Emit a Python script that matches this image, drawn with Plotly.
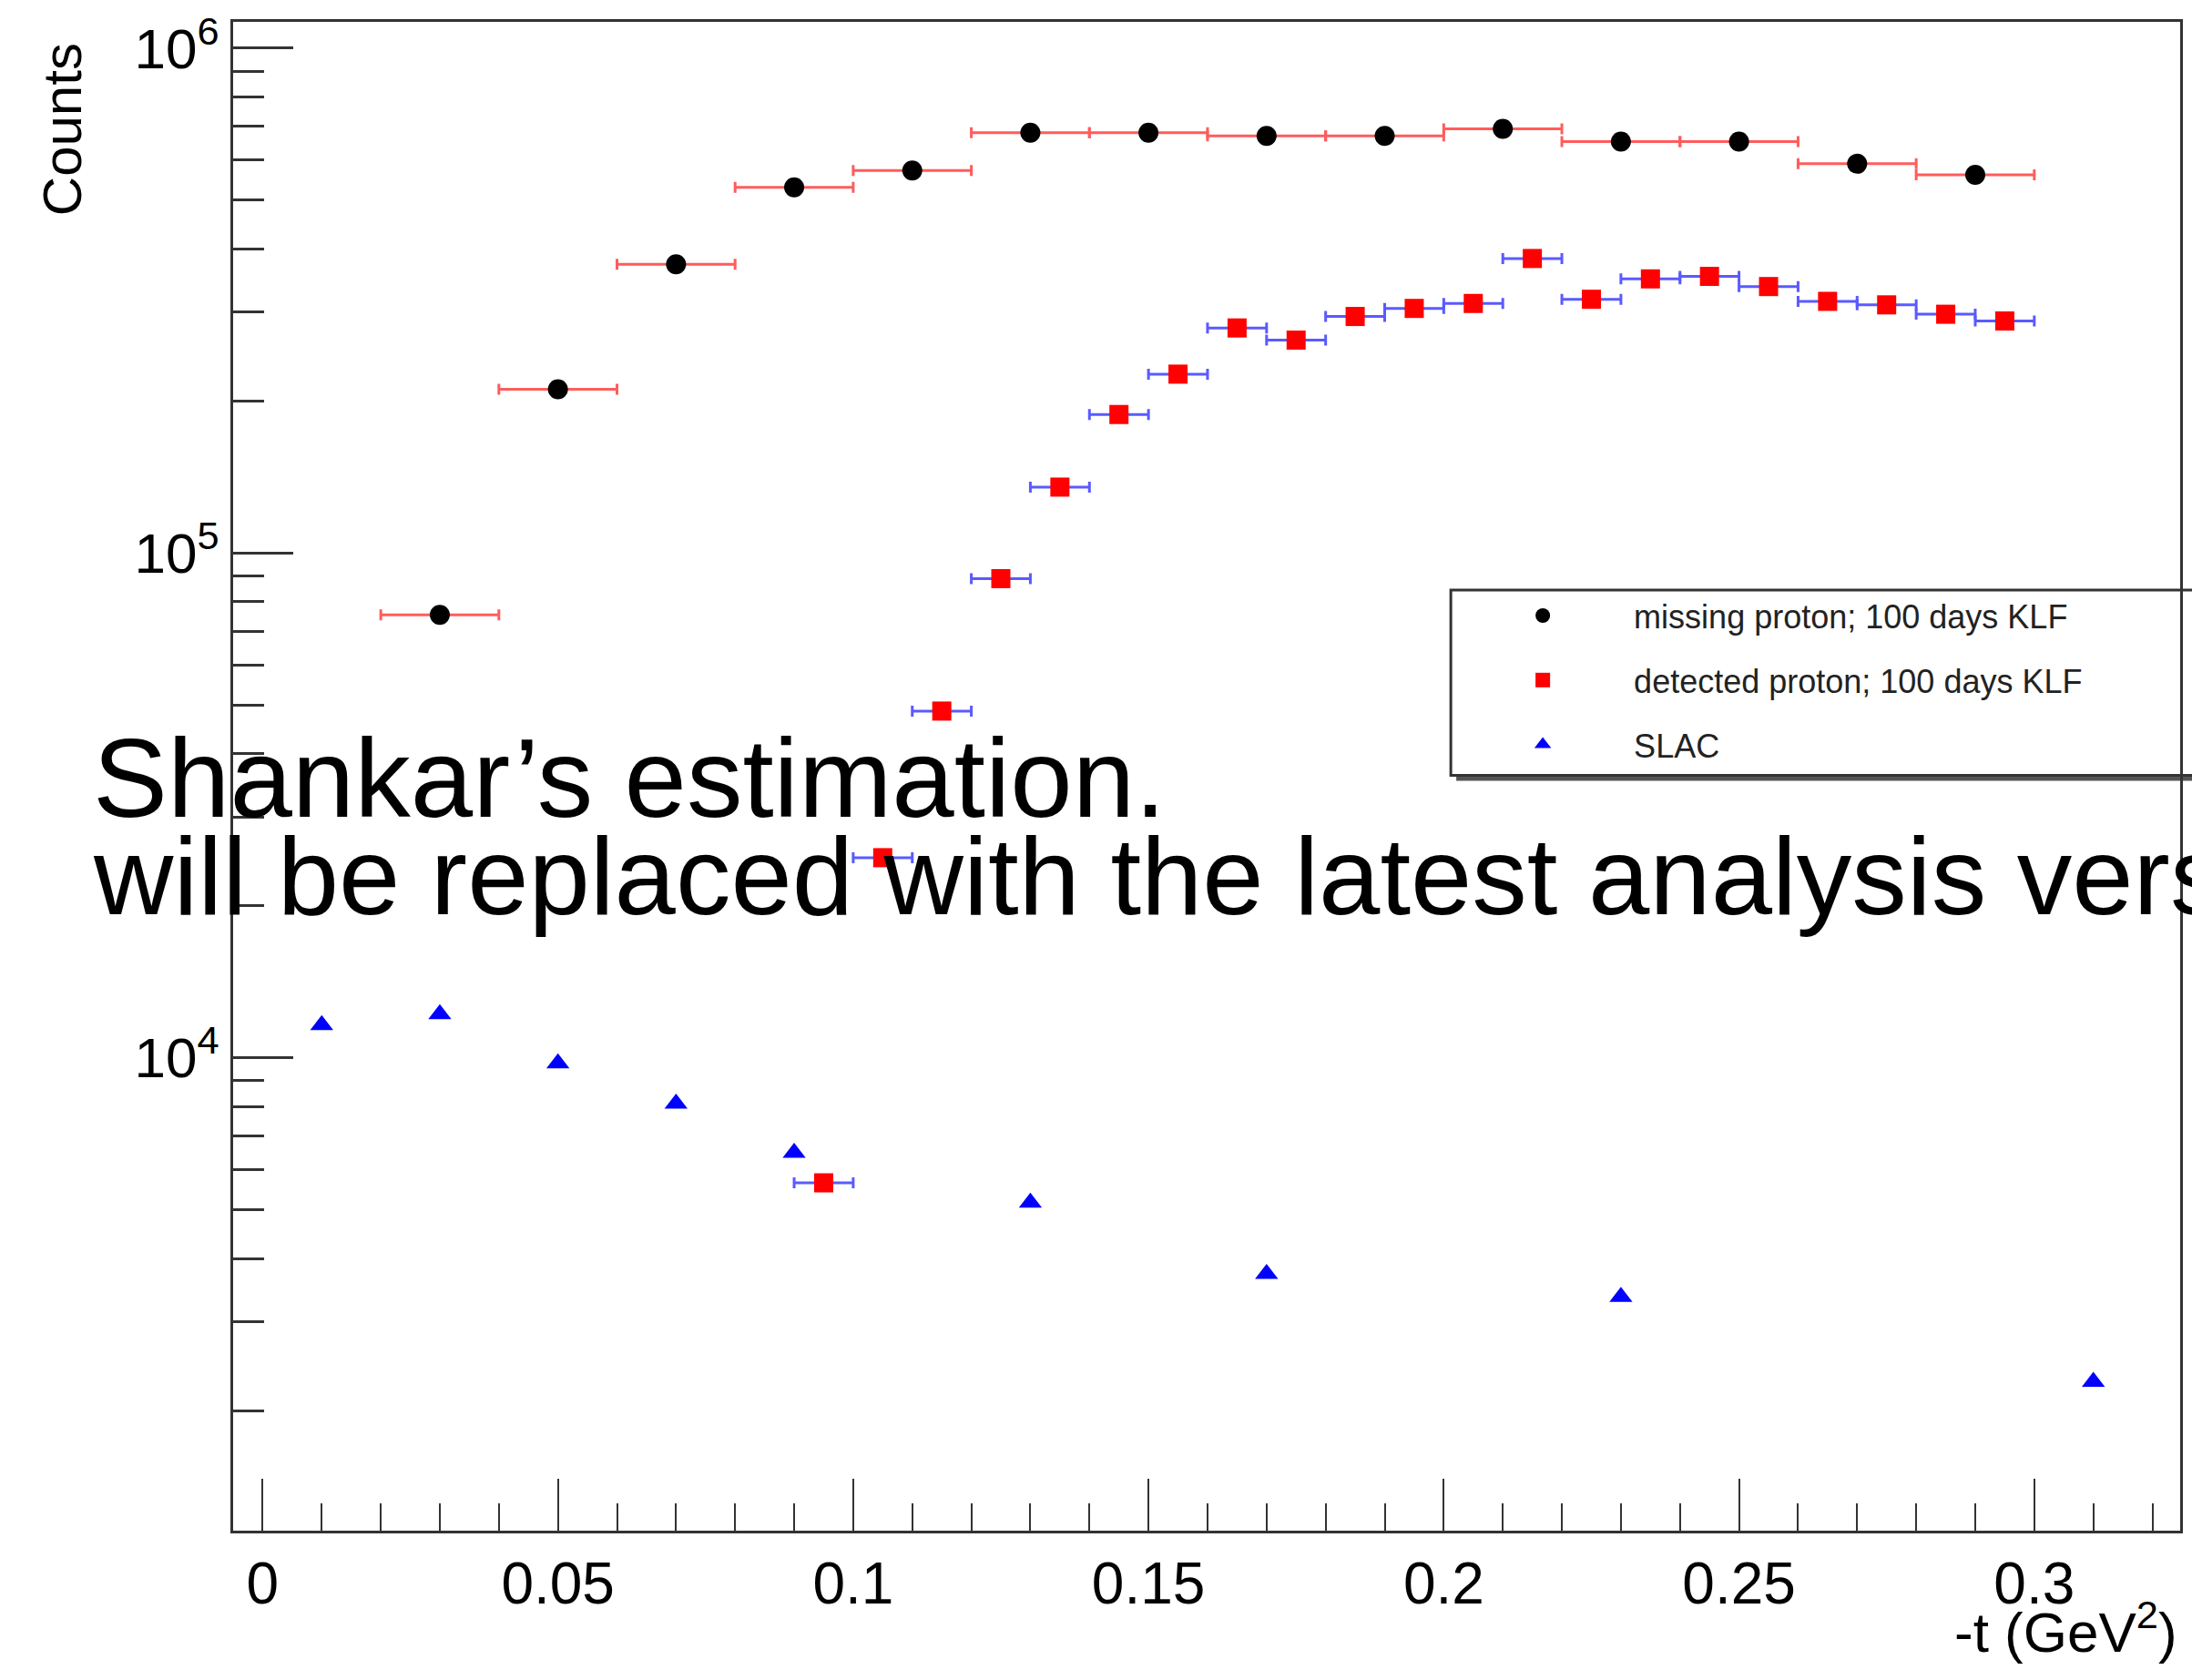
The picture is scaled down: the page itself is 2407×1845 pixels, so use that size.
import plotly.graph_objects as go

# ---- data ----
missing_t = [0.03, 0.05, 0.07, 0.09, 0.11, 0.13, 0.15, 0.17, 0.19, 0.21, 0.23, 0.25, 0.27, 0.29]
missing_counts = [75400, 211000, 373000, 530000, 572000, 680000, 680000, 670000, 670000,
                  692000, 653000, 653000, 590000, 561000]
missing_terr = [0.01] * len(missing_t)

detected_t = [0.095, 0.105, 0.115, 0.125, 0.135, 0.145, 0.155, 0.165, 0.175, 0.185, 0.195,
              0.205, 0.215, 0.225, 0.235, 0.245, 0.255, 0.265, 0.275, 0.285, 0.295]
detected_counts = [5650, 24900, 48600, 88900, 135000, 188000, 226000, 279000, 264000, 294000,
                   305000, 312000, 383000, 318000, 349000, 353000, 337000, 315000, 310000,
                   297000, 288000]
detected_terr = [0.005] * len(detected_t)

slac_t = [0.01, 0.03, 0.05, 0.07, 0.09, 0.13, 0.17, 0.23, 0.31]
slac_counts = [11600, 12200, 9750, 8110, 6480, 5160, 3730, 3360, 2280]

y_tickvals = [1e4, 1e5, 1e6]
y_ticktext = ["10<sup>4</sup>", "10<sup>5</sup>", "10<sup>6</sup>"]
y_minor = [m * 10 ** e for e in (3, 4, 5) for m in range(2, 10)]

W, H = 2407, 1845
L, R, T, B = 256, 10, 19, 164
PW, PH = W - L - R, H - T - B

def px_x(px):
    return (px - L) / PW

def px_y(py):
    return (H - B - py) / PH

FONT = "Liberation Sans, Arial, Helvetica, sans-serif"

fig = go.Figure()
fig.add_trace(go.Scatter(
    x=missing_t, y=missing_counts, mode="markers",
    name="missing proton; 100 days KLF", legendgroup="a",
    marker=dict(symbol="circle", size=22, color="black"),
    error_x=dict(type="data", array=missing_terr, color="#ff5c5c", thickness=3, width=6),
))
fig.add_trace(go.Scatter(
    x=detected_t, y=detected_counts, mode="markers",
    name="detected proton; 100 days KLF", legendgroup="b",
    marker=dict(symbol="square", size=21, color="#ff0000"),
    error_x=dict(type="data", array=detected_terr, color="#5a5aff", thickness=3, width=6),
))
fig.add_trace(go.Scatter(
    x=slac_t, y=slac_counts, mode="markers",
    name="SLAC", legendgroup="c",
    marker=dict(symbol="triangle-up", size=22, color="#0000ff"),
))

# legend box (extends past right edge) + shadow
fig.add_shape(type="rect", xref="paper", yref="paper",
              x0=px_x(1601), x1=1.05, y0=px_y(855), y1=px_y(651),
              line=dict(width=0), fillcolor="#555555", layer="below")
fig.add_shape(type="rect", xref="paper", yref="paper",
              x0=px_x(1595), x1=1.05, y0=px_y(849), y1=px_y(645),
              line=dict(color="#333333", width=3), fillcolor="white", layer="below")

# axis titles
fig.add_annotation(text="Counts", textangle=-90, xref="paper", yref="paper",
                   x=px_x(69), y=px_y(40), xanchor="center", yanchor="top",
                   showarrow=False, font=dict(size=60, color="black", family=FONT))
fig.add_annotation(text="-t (GeV<sup>2</sup>)", xref="paper", yref="paper",
                   x=px_x(2396), y=px_y(1788), xanchor="right", yanchor="middle",
                   showarrow=False, font=dict(size=62, color="black", family=FONT))

# overlay text
fig.add_annotation(text="Shankar’s estimation.", xref="paper", yref="paper",
                   x=px_x(100), y=px_y(852), xanchor="left", yanchor="middle",
                   showarrow=False, font=dict(size=123, color="black", family=FONT))
fig.add_annotation(text="will be replaced with the latest analysis version.", xref="paper", yref="paper",
                   x=px_x(100), y=px_y(960), xanchor="left", yanchor="middle",
                   showarrow=False, font=dict(size=121, color="black", family=FONT))

fig.update_layout(
    width=W, height=H,
    margin=dict(l=L, r=R, t=T, b=B, pad=0),
    paper_bgcolor="white", plot_bgcolor="white",
    font=dict(family=FONT, color="black"),
    showlegend=True,
    legend=dict(x=px_x(1596), y=px_y(643), xanchor="left", yanchor="top",
                bgcolor="rgba(0,0,0,0)", borderwidth=0, itemwidth=190,
                tracegroupgap=21, font=dict(size=36, color="#222222", family=FONT)),
    xaxis=dict(range=[-0.005, 0.3247], showgrid=False, zeroline=False,
               showline=True, linecolor="#333333", linewidth=3, mirror=True,
               ticks="inside", ticklen=57, tickwidth=2, tickcolor="#333333",
               tick0=0, dtick=0.05, tickfont=dict(size=64, color="black"),
               minor=dict(ticks="inside", ticklen=30, tickwidth=2, tickcolor="#333333", dtick=0.01, tick0=0)),
    yaxis=dict(type="log", range=[3.063, 6.052], showgrid=False, zeroline=False,
               showline=True, linecolor="#333333", linewidth=3, mirror=True,
               ticks="inside", ticklen=66, tickwidth=3, tickcolor="#333333",
               tickvals=y_tickvals, ticktext=y_ticktext, tickfont=dict(size=62, color="black"),
               minor=dict(ticks="inside", ticklen=34, tickwidth=3, tickcolor="#333333", tickvals=y_minor)),
)

fig.write_html("out.html")
